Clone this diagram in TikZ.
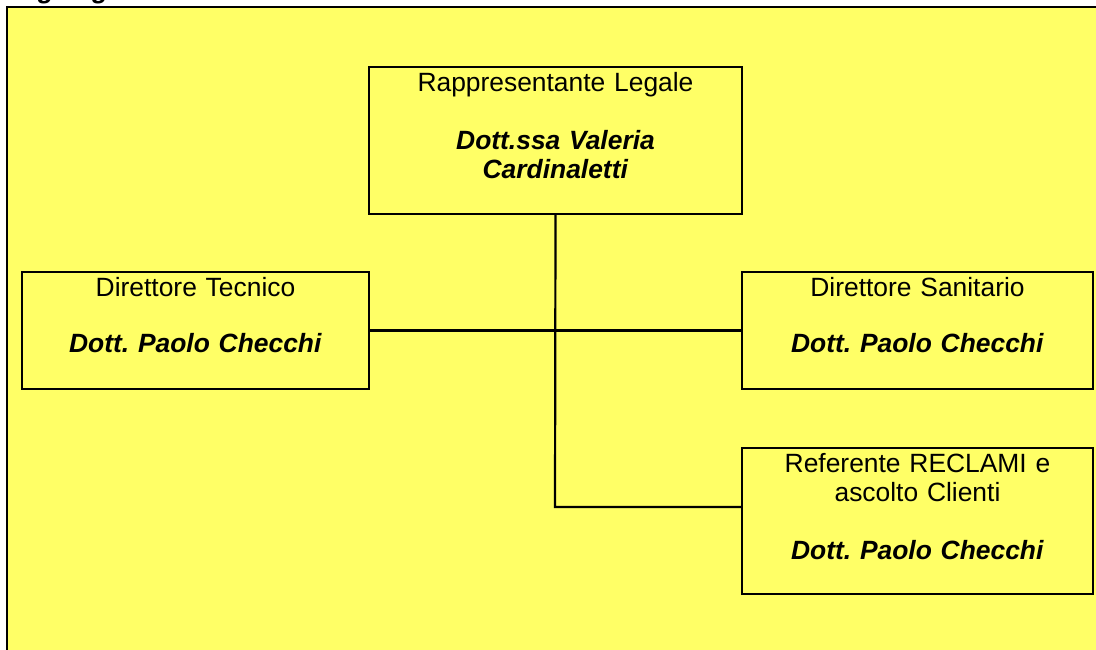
\documentclass[tikz,border=0pt]{standalone}
\usepackage{fontspec}
\setmainfont{Liberation Sans}
\frenchspacing
\definecolor{orgyellow}{HTML}{FFFF66}
\newcommand{\nome}[1]{\textbf{\textit{#1}}}

\begin{document}
\begin{tikzpicture}[x=0.5pt,y=-0.5pt,
    ufficio/.style={draw,line width=1.1pt,fill=orgyellow,rectangle,inner sep=0pt},
    ruolo/.style={anchor=north,inner sep=0pt,align=center,font=\fontsize{13.2}{14.5}\selectfont},
    linea/.style={line width=1.1pt}]
      \useasboundingbox (0,0) rectangle (1096,649);
      \draw[line width=1.1pt,fill=orgyellow] (7,7) rectangle (1120,680);
      \node[anchor=base west,inner sep=0pt,font=\fontsize{13.2}{14.5}\selectfont\bfseries\itshape] (titolo) at (7,-1.5) {Organigramma};
      % caselle
      \node[ufficio,minimum width=186.5pt,minimum height=73.5pt] (legale) at (555.5,140.5) {};
      \node[ufficio,minimum width=173.5pt,minimum height=58.5pt] (tecnico) at (195.5,330.5) {};
      \node[ufficio,minimum width=175.5pt,minimum height=58.5pt] (sanitario) at (917.5,330.5) {};
      \node[ufficio,minimum width=175.5pt,minimum height=73pt] (reclami) at (917.5,521) {};
      % collegamenti
      \coordinate (snodo) at (555,507);
      \draw[linea] (tecnico.east) -- (sanitario.west);
      \draw[linea] (legale.south) -- (snodo) -- (snodo -| reclami.west);
      % testi
      \node[ruolo,text width=186pt] (legaletxt) at ([yshift=-3pt]legale.north)
        {Rappresentante Legale\\[14.5pt]\nome{Dott.ssa Valeria}\\\nome{Cardinaletti}};
      \node[ruolo,text width=173pt] (tecnicotxt) at ([yshift=-3pt]tecnico.north)
        {Direttore Tecnico\\[13.5pt]\nome{Dott. Paolo Checchi}};
      \node[ruolo,text width=175pt] (sanitariotxt) at ([yshift=-3pt]sanitario.north)
        {Direttore Sanitario\\[13.5pt]\nome{Dott. Paolo Checchi}};
      \node[ruolo,text width=175pt] (reclamitxt) at ([yshift=-3pt]reclami.north)
        {Referente RECLAMI e\\ascolto Clienti\\[14.5pt]\nome{Dott. Paolo Checchi}};
    \end{tikzpicture}
\end{document}
